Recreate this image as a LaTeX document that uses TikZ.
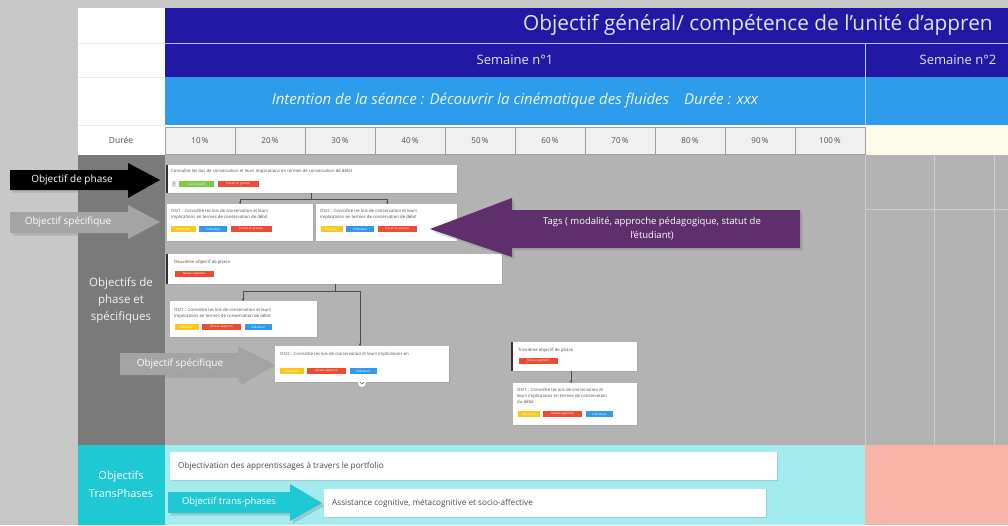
\documentclass[tikz,border=0pt]{standalone}
\usepackage{fontspec}
\setmainfont{Open Sans}
\usepackage{xcolor}
\usetikzlibrary{positioning,shadows,arrows.meta}
\definecolor{outer}{HTML}{C8C8C8}
\definecolor{navy}{HTML}{2119A6}
\definecolor{sky}{HTML}{2D9CEA}
\definecolor{cellg}{HTML}{F0F0F0}
\definecolor{cream}{HTML}{FDFBEA}
\definecolor{mid}{HTML}{B3B3B3}
\definecolor{dark}{HTML}{7A7A7A}
\definecolor{cyand}{HTML}{1FC9D3}
\definecolor{cyanl}{HTML}{A3EBEE}
\definecolor{salmon}{HTML}{F8B4A8}
\definecolor{purp}{HTML}{5E2F6A}
\definecolor{argray}{HTML}{A4A4A4}
\definecolor{tagy}{HTML}{F9C81A}
\definecolor{tagb}{HTML}{2F9BEA}
\definecolor{tagr}{HTML}{EE4B34}
\definecolor{tagg}{HTML}{7CCB4A}
\definecolor{headtxt}{HTML}{E6E4F6}

\tikzset{
  card/.style={fill=white, rectangle, inner sep=0pt, anchor=north west,
    drop shadow={shadow xshift=0.8pt, shadow yshift=-0.8pt, opacity=0.25}},
  cardtxt/.style={anchor=north west, inner sep=0pt, align=left, text=black!70,
    font=\fontsize{4.3}{5.8}\selectfont},
  tag/.style={anchor=west, inner xsep=1.5pt, inner ysep=0pt, minimum height=7pt,
    text=white, font=\fontsize{3}{3}\selectfont, draw=white, line width=0.4pt},
  pcell/.style={draw=gray!75, fill=cellg, minimum width=70pt, minimum height=27pt,
    inner sep=0pt, font=\fontsize{8}{9}\selectfont, text=black!70},
  link/.style={draw=black!70, line width=0.5pt, -{Stealth[length=2.5pt,width=2.5pt]}},
  artxt/.style={text=white, font=\fontsize{10}{12}\selectfont, inner sep=0pt},
}

\begin{document}
\begin{tikzpicture}[x=1pt,y=-1pt]
\useasboundingbox (0,0) rectangle (1008,525);
\clip (0,0) rectangle (1008,525);
\fill[outer] (0,0) rectangle (1008,525);

% en-tetes
\fill[white] (78,8) rectangle (165,155);
\fill[navy] (165,8) rectangle (1008,77);
\fill[sky] (165,77) rectangle (1008,125);
\draw[white!70!navy, line width=0.6pt] (165,43) -- (1008,43);
\draw[white!60!sky, line width=0.6pt] (865,43) -- (865,125);
\draw[gray!15] (78,43) -- (165,43) (78,77) -- (165,77) (78,125) -- (165,125);
\node[anchor=west, text=headtxt, font=\fontsize{20.8}{25}\selectfont, inner sep=0pt] (titre) at (523,25) {Objectif général/ compétence de l'unité d'appren};
\node[text=headtxt, font=\fontsize{13}{15}\selectfont] (sem1) at (515,60) {Semaine n°1};
\node[text=headtxt, font=\fontsize{13}{15}\selectfont] (sem2) at (958,60) {Semaine n°2};
\node[text=white!92!sky, font=\fontsize{15}{18}\itshape] (intention) at (515,101) {Intention de la séance : Découvrir la cinématique des fluides\quad Durée : xxx};

% ligne des durees
\fill[white] (165,125) rectangle (865,155);
\fill[cream] (865,125) rectangle (1008,155);
\node[font=\fontsize{8.5}{9}\selectfont, text=black!70] (duree) at (121,140) {Durée};
\foreach \i/\p in {0/10,1/20,2/30,3/40,4/50,5/60,6/70,7/80,8/90,9/100}
  \node[pcell] (pc\i) at (200+70*\i,141) {\p\,\%};

% zone des objectifs
\fill[dark] (78,155) rectangle (165,445);
\fill[mid] (165,155) rectangle (1008,445);
\draw[white!35!mid, line width=0.8pt] (865,155) -- (865,445) (934,155) -- (934,445)
  (994,155) -- (994,445) (865,209) -- (1008,209);
\node[align=center, text=white!92!dark, font=\fontsize{11.5}{17}\selectfont] (lblphase) at (121,300) {Objectifs de\\phase et\\spécifiques};

% zone transphases
\fill[cyand] (78,445) rectangle (165,525);
\fill[cyanl] (165,445) rectangle (865,525);
\fill[salmon] (865,445) rectangle (1008,525);
\node[align=center, text=white, font=\fontsize{11}{18}\selectfont] (lbltrans) at (121,484) {Objectifs\\TransPhases};

% phase 1
\node[card, minimum width=290pt, minimum height=28pt] (phaseA) at (167,165) {};
\draw[black!80, line width=1.2pt] (phaseA.north west) -- (phaseA.south west);
\node[cardtxt] (phaseAt) at (171,169) {Connaître les lois de conservation et leurs implications en termes de conservation de débit};
\node[tag, fill=black!15, text=black!60, minimum width=5pt] (phaseAp) at (171,184) {P};
\node[tag, fill=tagg, minimum width=36pt, right=2pt of phaseAp] (phaseAg) {Lien collectif};
\node[tag, fill=tagr, minimum width=42pt, right=2pt of phaseAg] (phaseAr) {Travail en groupe};

\node[card, minimum width=146pt, minimum height=37pt] (osA1) at (167,204) {};
\node[cardtxt] (osA1t) at (171,209) {OS/1 : Connaître les lois de conservation et leurs\\implications en termes de conservation de débit};
\node[tag, fill=tagy, minimum width=26pt] (osA1y) at (170,229) {Présentiel};
\node[tag, fill=tagb, minimum width=29pt, right=2pt of osA1y] (osA1b) {Individuel};
\node[tag, fill=tagr, minimum width=42pt, right=2pt of osA1b] (osA1r) {Travail en groupe};

\node[card, minimum width=141pt, minimum height=37pt] (osA2) at (316,204) {};
\node[cardtxt] (osA2t) at (320,209) {OS/2 : Connaître les lois de conservation et leurs\\implications en termes de conservation de débit};
\node[tag, fill=tagy, minimum width=23pt] (osA2y) at (320,229) {Présentiel};
\node[tag, fill=tagb, minimum width=29pt, right=2pt of osA2y] (osA2b) {Individuel};
\node[tag, fill=tagr, minimum width=40pt, right=2pt of osA2b] (osA2r) {Travail en groupe};

\coordinate (jA) at (311,199);
\draw[black!70, line width=0.5pt] (phaseA.south -| jA) -- (jA);
\draw[link] (jA) -| (osA1.north);
\draw[link] (jA) -| ([xshift=0.5pt]osA2.north);

% phase 2
\node[card, minimum width=335pt, minimum height=30pt] (phaseB) at (167,254) {};
\draw[black!80, line width=1.2pt] (phaseB.north west) -- (phaseB.south west);
\node[cardtxt] (phaseBt) at (174,260) {Deuxième objectif de phase};
\node[tag, fill=tagr, minimum width=40pt] (phaseBr) at (174,274) {Niveau apprenti};

\node[card, minimum width=147pt, minimum height=36pt] (osB1) at (170,301) {};
\node[cardtxt] (osB1t) at (174,308) {OS/1 : Connaître les lois de conservation et leurs\\implications en termes de conservation de débit};
\node[tag, fill=tagy, minimum width=25pt] (osB1y) at (174,327) {Présentiel};
\node[tag, fill=tagr, minimum width=40pt, right=2pt of osB1y] (osB1r) {Niveau apprenti};
\node[tag, fill=tagb, minimum width=28pt, right=2pt of osB1r] (osB1b) {Individuel};

\node[card, minimum width=174pt, minimum height=36pt] (osB2) at (275,346) {};
\node[cardtxt] (osB2t) at (280,352) {OS/2 : Connaître les lois de conservation et leurs implications en};
\node[tag, fill=tagy, minimum width=25pt] (osB2y) at (279,371) {Présentiel};
\node[tag, fill=tagr, minimum width=40pt, right=2pt of osB2y] (osB2r) {Niveau apprenti};
\node[tag, fill=tagb, minimum width=28pt, right=2pt of osB2r] (osB2b) {Individuel};
\node[circle, fill=white, minimum size=8pt, inner sep=0pt] (plier) at (362,383) {};
\draw[black!60, line width=0.4pt] ([xshift=-1.8pt,yshift=0.8pt]plier.center) -- ([yshift=-1pt]plier.center) -- ([xshift=1.8pt,yshift=0.8pt]plier.center);

\coordinate (jB) at (335,291);
\draw[black!70, line width=0.5pt] (phaseB.south -| jB) -- (jB);
\draw[link] (jB) -| (243,301);
\draw[link] (jB) -| (360,346);

% phase 3
\node[card, minimum width=125pt, minimum height=29pt] (phaseC) at (512,342) {};
\draw[black!80, line width=1.2pt] (phaseC.north west) -- (phaseC.south west);
\node[cardtxt] (phaseCt) at (518,348) {Troisième objectif de phase};
\node[tag, fill=tagr, minimum width=40pt] (phaseCr) at (518,361) {Niveau apprenti};

\node[card, minimum width=124pt, minimum height=42pt] (osC1) at (513,383) {};
\node[cardtxt] (osC1t) at (517,388) {OS/1 : Connaître les lois de conservation et\\leurs implications en termes de conservation\\du débit};
\node[tag, fill=tagy, minimum width=23pt] (osC1y) at (517,414) {Présentiel};
\node[tag, fill=tagr, minimum width=40pt, right=2pt of osC1y] (osC1r) {Niveau apprenti};
\node[tag, fill=tagb, minimum width=28pt, right=2pt of osC1r] (osC1b) {Individuel};

\draw[link] (phaseC.south -| 571,0) -- (osC1.north -| 571,0);

% fleches de legende
\fill[black, drop shadow={opacity=0.3}] (10,170) -- (128,170) -- (128,163) -- (160,180) -- (128,198) -- (128,190) -- (10,190) -- cycle;
\node[artxt] (legphase) at (72,180) {Objectif de phase};

\fill[argray, drop shadow={opacity=0.3}] (10,212) -- (128,212) -- (128,205) -- (160,222) -- (128,239) -- (128,233) -- (10,233) -- cycle;
\node[artxt] (legspec) at (68,222) {Objectif spécifique};

\fill[argray, drop shadow={opacity=0.3}] (120,353) -- (238,353) -- (238,346) -- (272,363) -- (238,382) -- (238,375) -- (120,375) -- cycle;
\node[artxt] (legspecb) at (180,364) {Objectif spécifique};

\fill[purp, drop shadow={opacity=0.3}] (800,210) -- (512,210) -- (512,198) -- (430,229) -- (512,257) -- (512,248) -- (800,248) -- cycle;
\node[artxt, align=center, font=\fontsize{9.5}{14}\selectfont] (legtags) at (652,229) {Tags ( modalité, approche pédagogique, statut de\\l'étudiant)};

% objectifs transphases
\node[card, minimum width=607pt, minimum height=28pt] (transA) at (170,452) {};
\node[anchor=west, inner sep=0pt, text=black!70, font=\fontsize{8.2}{10}\selectfont] (transAt) at (178,466) {Objectivation des apprentissages à travers le portfolio};

\fill[cyand, drop shadow={opacity=0.3}] (168,492) -- (290,492) -- (290,484) -- (322,503) -- (290,521) -- (290,513) -- (168,513) -- cycle;
\node[artxt, font=\fontsize{9.5}{11}\selectfont] (legtrans) at (229,502) {Objectif trans-phases};

\node[card, minimum width=442pt, minimum height=28pt] (transB) at (324,489) {};
\node[anchor=west, inner sep=0pt, text=black!70, font=\fontsize{8.2}{10}\selectfont] (transBt) at (332,503) {Assistance cognitive, métacognitive et socio-affective};
\end{tikzpicture}
\end{document}
